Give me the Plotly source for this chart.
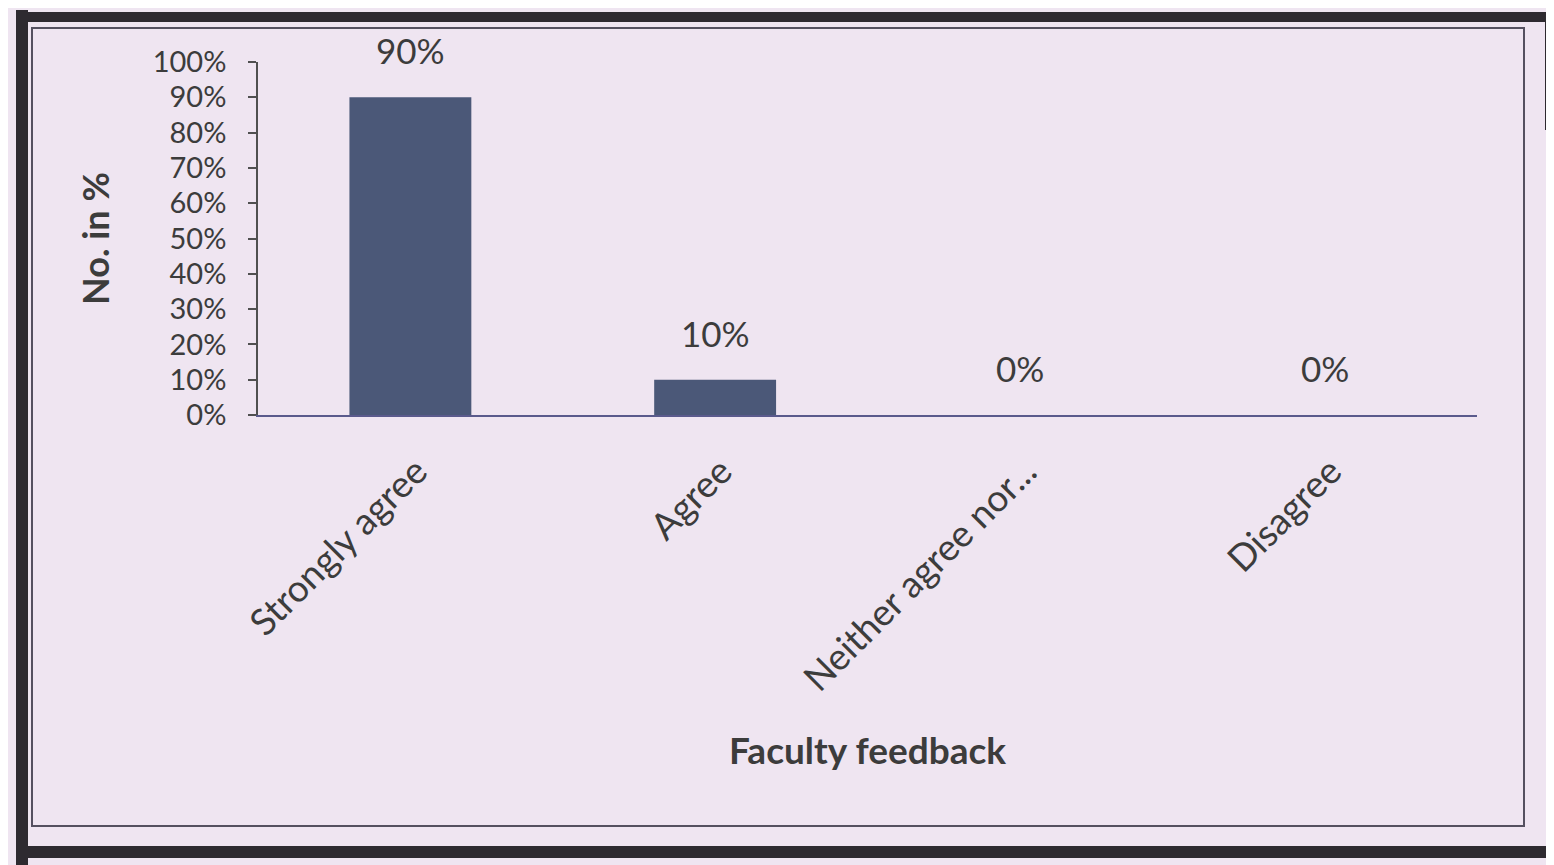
import plotly.graph_objects as go

# ---------- data -----------------------------------------------------------
CATEGORIES = ['Strongly agree', 'Agree', 'Neither agree nor...', 'Disagree']
VALUES = [90, 10, 0, 0]
Y_TICKS = list(range(0, 101, 10))
Y_TICK_LABELS = [f'{t}%' for t in Y_TICKS]

FONT = 'Lato, Open Sans, sans-serif'
PAPER_BG = '#EFE5F1'
TEXT = '#3c3c3c'
BAR = '#4b5878'

# the page puts the figure 8px in from the top-left, so work in page pixels
OFF = 8
W, H = 1554 - OFF, 865 - OFF
PLOT_X0, PLOT_X1, PLOT_Y0, PLOT_Y1 = 258, 1477, 62, 415   # page pixels
L, R = PLOT_X0 - OFF, W - (PLOT_X1 - OFF)
T, B = PLOT_Y0 - OFF, H - (PLOT_Y1 - OFF)


def px_x(p):
    return (p - PLOT_X0) / (PLOT_X1 - PLOT_X0)


def px_y(p):
    return (PLOT_Y1 - p) / (PLOT_Y1 - PLOT_Y0)


fig = go.Figure(go.Bar(
    x=CATEGORIES, y=VALUES,
    marker=dict(color=BAR, line=dict(width=0)),
    hoverinfo='skip',
))

# data labels sit well above the bars, as in the source
for cat, v in zip(CATEGORIES, VALUES):
    fig.add_annotation(x=cat, y=v, text=f'{v}%', showarrow=False,
                       yanchor='middle', yshift=47,
                       font=dict(family=FONT, size=35, color=TEXT))

# scanned page frame
DARK = '#2e2a30'
shapes = [
    # thick outer border
    dict(type='line', x0=px_x(22), x1=px_x(22), y0=px_y(10), y1=px_y(870),
         line=dict(color=DARK, width=12)),
    dict(type='line', x0=px_x(16), x1=px_x(1560), y0=px_y(17), y1=px_y(17),
         line=dict(color=DARK, width=10)),
    dict(type='line', x0=px_x(28), x1=px_x(1560), y0=px_y(852), y1=px_y(852),
         line=dict(color=DARK, width=12)),
    dict(type='line', x0=px_x(1549), x1=px_x(1549), y0=px_y(12), y1=px_y(130),
         line=dict(color=DARK, width=8)),
    # thin inner border
    dict(type='rect', x0=px_x(32), x1=px_x(1524), y0=px_y(28), y1=px_y(826),
         line=dict(color='#555060', width=2), fillcolor='rgba(0,0,0,0)'),
]
for s in shapes:
    s.update(xref='paper', yref='paper', layer='above')
fig.update_layout(shapes=shapes)

fig.update_layout(
    width=W, height=H,
    margin=dict(l=L, r=R, t=T, b=B, autoexpand=False),
    paper_bgcolor=PAPER_BG, plot_bgcolor=PAPER_BG,
    font=dict(family=FONT, size=32, color=TEXT),
    bargap=0.6,
    showlegend=False,
    xaxis=dict(
        tickangle=-45, tickfont=dict(family=FONT, size=37, color=TEXT),
        showgrid=False, zeroline=False,
        showline=True, linecolor='#5a5a8c', linewidth=2,
        ticks='', ticklabelstandoff=18, ticklabelshift=6,
        title=dict(text='<b>Faculty feedback</b>', standoff=40,
                   font=dict(family=FONT, size=37, color=TEXT)),
    ),
    yaxis=dict(
        range=[0, 100], tickmode='array', tickvals=Y_TICKS, ticktext=Y_TICK_LABELS,
        tickfont=dict(family=FONT, size=29, color=TEXT),
        showgrid=False, zeroline=False,
        showline=True, linecolor='#505050', linewidth=1.5,
        ticks='outside', ticklen=8, tickcolor='#505050', tickwidth=1.5,
        ticklabelstandoff=16,
        title=dict(text='<b>No. in %</b>', standoff=32,
                   font=dict(family=FONT, size=36, color=TEXT)),
    ),
)

fig.write_html('out.html')
